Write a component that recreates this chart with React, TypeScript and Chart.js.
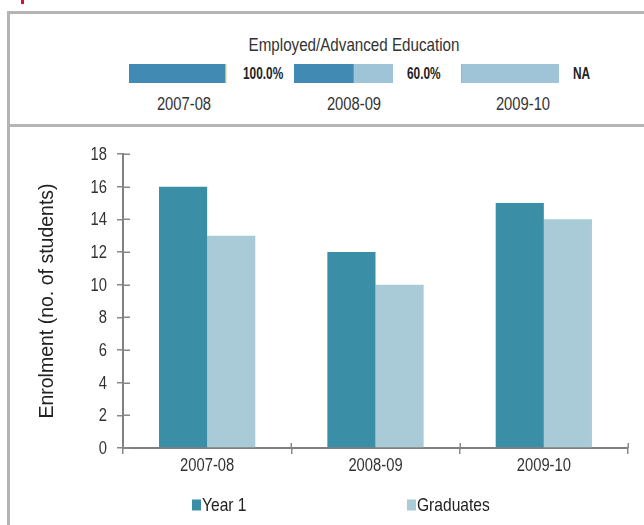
import React, { useEffect, useRef } from 'react';
import { Chart, registerables } from 'chart.js';
Chart.register(...registerables);

// ---- Data ----
const categories = ['2007-08', '2008-09', '2009-10'];
const year1 = [16, 12, 15];
const graduates = [13, 10, 14];
const yMax = 18;
const yStep = 2;

const topYears = ['2007-08', '2008-09', '2009-10'];
const employedPct = [100, 60, 0];
const otherPct = [2, 0, 0];
const notEmployedPct = [0, 40, 0];
const naPct = [0, 0, 100];
const employedLabels = ['100.0%', '60.0%', 'NA'];

const SANS = "'Liberation Sans', Arial, sans-serif";
const NARROW_SCALE = 0.82;

const DARK = '#3a8fa7';
const LIGHT = '#a9cbd8';
const TOP_DARK = '#418ab4';
const TOP_LIGHT = '#9fc4d8';
const SLIVER = '#eeeac0';
const BORDER = '#b4b4b4';

function MiniBar({ idx, left, top, width, height }: { idx: number; left: number; top: number; width: number; height: number }) {
  const ref = useRef<HTMLCanvasElement>(null);
  useEffect(() => {
    if (!ref.current) return;
    const total = employedPct[idx] + otherPct[idx] + notEmployedPct[idx] + naPct[idx];
    const chart = new Chart(ref.current, {
      type: 'bar',
      data: {
        labels: [topYears[idx]],
        datasets: [
          { label: 'Employed', data: [employedPct[idx]], backgroundColor: TOP_DARK },
          { label: 'Other', data: [otherPct[idx]], backgroundColor: SLIVER },
          { label: 'Not employed', data: [notEmployedPct[idx]], backgroundColor: TOP_LIGHT },
          { label: 'NA', data: [naPct[idx]], backgroundColor: TOP_LIGHT },
        ],
      },
      options: {
        indexAxis: 'y',
        responsive: false,
        animation: false,
        layout: { padding: 0 },
        datasets: { bar: { barPercentage: 1, categoryPercentage: 1, borderWidth: 0 } },
        scales: {
          x: { stacked: true, display: false, min: 0, max: total },
          y: { stacked: true, display: false },
        },
        plugins: { legend: { display: false }, tooltip: { enabled: false } },
      },
    });
    return () => chart.destroy();
  }, [idx]);
  return (
    <canvas
      ref={ref}
      width={width}
      height={height}
      style={{ position: 'absolute', left, top, width, height }}
    />
  );
}

function narrowText(ctx: any, text: string, x: number, y: number, align: 'left' | 'center' | 'right') {
  ctx.save();
  ctx.translate(x, y);
  ctx.scale(NARROW_SCALE, 1);
  ctx.textAlign = align;
  ctx.fillText(text, 0, 0);
  ctx.restore();
}

const axisDecor = {
  id: 'axisDecor',
  afterDraw(chart: any) {
    const { ctx } = chart;
    const x = chart.scales.x;
    const y = chart.scales.y;
    ctx.save();
    // inner halves of the tick marks
    ctx.strokeStyle = '#888';
    ctx.lineWidth = 1.5;
    ctx.beginPath();
    y.ticks.forEach((_t: any, i: number) => {
      const py = Math.round(y.getPixelForTick(i)) + 0.25;
      ctx.moveTo(y.right, py);
      ctx.lineTo(y.right + 7, py);
    });
    const n = x.ticks.length;
    for (let i = 0; i <= n; i++) {
      const px = Math.round(x.left + (i * x.width) / n) + 0.25;
      ctx.moveTo(px, x.top);
      ctx.lineTo(px, x.top - 5);
    }
    ctx.stroke();
    // tick labels (narrow face)
    ctx.fillStyle = '#333';
    ctx.font = `18px ${SANS}`;
    ctx.textBaseline = 'middle';
    y.ticks.forEach((t: any, i: number) => {
      narrowText(ctx, String(t.value), y.right - 16, y.getPixelForTick(i) + 1, 'right');
    });
    x.ticks.forEach((_t: any, i: number) => {
      narrowText(ctx, String(chart.data.labels[i]), x.getPixelForTick(i), x.top + 18, 'center');
    });
    ctx.restore();
  },
};

const customLegend = {
  id: 'customLegend',
  afterDraw(chart: any, _args: any, opts: any) {
    const { ctx, chartArea } = chart;
    ctx.save();
    ctx.font = `19px ${SANS}`;
    ctx.textBaseline = 'middle';
    chart.data.datasets.forEach((ds: any, i: number) => {
      const bx = chartArea.left + opts.offsets[i];
      const cy = opts.y;
      ctx.fillStyle = ds.backgroundColor;
      ctx.fillRect(bx, cy - 5.5, 9, 11);
      ctx.fillStyle = '#222';
      narrowText(ctx, ds.label, bx + 10, cy + 1, 'left');
    });
    ctx.restore();
  },
};

function MainChart() {
  const ref = useRef<HTMLCanvasElement>(null);
  useEffect(() => {
    if (!ref.current) return;
    const chart = new Chart(ref.current, {
      type: 'bar',
      data: {
        labels: categories,
        datasets: [
          { label: 'Year 1', data: year1, backgroundColor: DARK },
          { label: 'Graduates', data: graduates, backgroundColor: LIGHT },
        ],
      },
      options: {
        responsive: false,
        animation: false,
        layout: { padding: { top: 27, right: 16, left: 0, bottom: 0 } },
        datasets: { bar: { barPercentage: 1, categoryPercentage: 0.572, borderWidth: 0 } },
        scales: {
          x: {
            afterFit: (s: any) => { s.height = 77; },
            grid: { offset: true, drawOnChartArea: false, drawTicks: true, tickLength: 6, color: '#888', lineWidth: 1.5 },
            border: { display: true, color: '#808080', width: 2 },
            ticks: { display: false },
          },
          y: {
            min: 0,
            max: yMax,
            afterFit: (s: any) => { s.width = 113; },
            grid: { drawOnChartArea: false, drawTicks: true, tickLength: 6, color: '#888', lineWidth: 1.5 },
            border: { display: true, color: '#808080', width: 2 },
            ticks: { stepSize: yStep, display: false },
            title: {
              display: true,
              text: 'Enrolment (no. of students)',
              font: { family: SANS, size: 19.5 },
              color: '#222',
              padding: { top: 26, bottom: 0 },
            },
          },
        },
        plugins: {
          legend: { display: false },
          tooltip: { enabled: false },
          customLegend: { offsets: [69, 284], y: 378 },
        } as any,
      },
      plugins: [axisDecor, customLegend],
    });
    return () => chart.destroy();
  }, []);
  return (
    <canvas
      ref={ref}
      width={634}
      height={398}
      style={{ position: 'absolute', left: 10, top: 127, width: 634, height: 398 }}
    />
  );
}

export default function App() {
  const barLefts = [129, 294, 461];
  const barWidths = [98, 99, 98];
  const pctLefts = [243, 407, 573];
  const yearCenters = [184, 354, 523];
  return (
    <div
      style={{
        position: 'absolute',
        left: 0,
        top: 0,
        width: 644,
        height: 525,
        background: '#fff',
        overflow: 'hidden',
        fontFamily: SANS,
        color: '#333',
      }}
    >
      <div style={{ position: 'absolute', left: 21, top: 0, width: 3, height: 4, background: '#d3123c' }} />
      <div style={{ position: 'absolute', left: 7, top: 11, width: 640, height: 3, background: BORDER }} />
      <div style={{ position: 'absolute', left: 7, top: 11, width: 3, height: 520, background: BORDER }} />
      <div style={{ position: 'absolute', left: 7, top: 124, width: 640, height: 3, background: BORDER }} />

      <div
        style={{
          position: 'absolute',
          left: 354,
          top: 34,
          transform: `translateX(-50%) scaleX(${NARROW_SCALE})`,
          whiteSpace: 'nowrap',
          fontSize: 18.5,
          lineHeight: '22px',
          color: '#333',
        }}
      >
        Employed/Advanced Education
      </div>

      {topYears.map((y, i) => (
        <MiniBar key={y} idx={i} left={barLefts[i]} top={64} width={barWidths[i]} height={19} />
      ))}
      {employedLabels.map((t, i) => (
        <div
          key={'p' + i}
          style={{
            position: 'absolute',
            left: pctLefts[i],
            top: 65,
            fontSize: 16,
            fontWeight: 'bold',
            lineHeight: '18px',
            color: '#222',
            whiteSpace: 'nowrap',
            transform: 'scaleX(0.74)',
            transformOrigin: 'left center',
          }}
        >
          {t}
        </div>
      ))}
      {topYears.map((y, i) => (
        <div
          key={'y' + i}
          style={{
            position: 'absolute',
            left: yearCenters[i],
            top: 93,
            transform: `translateX(-50%) scaleX(${NARROW_SCALE})`,
            fontSize: 18,
            lineHeight: '22px',
            color: '#333',
            whiteSpace: 'nowrap',
          }}
        >
          {y}
        </div>
      ))}

      <MainChart />
    </div>
  );
}
